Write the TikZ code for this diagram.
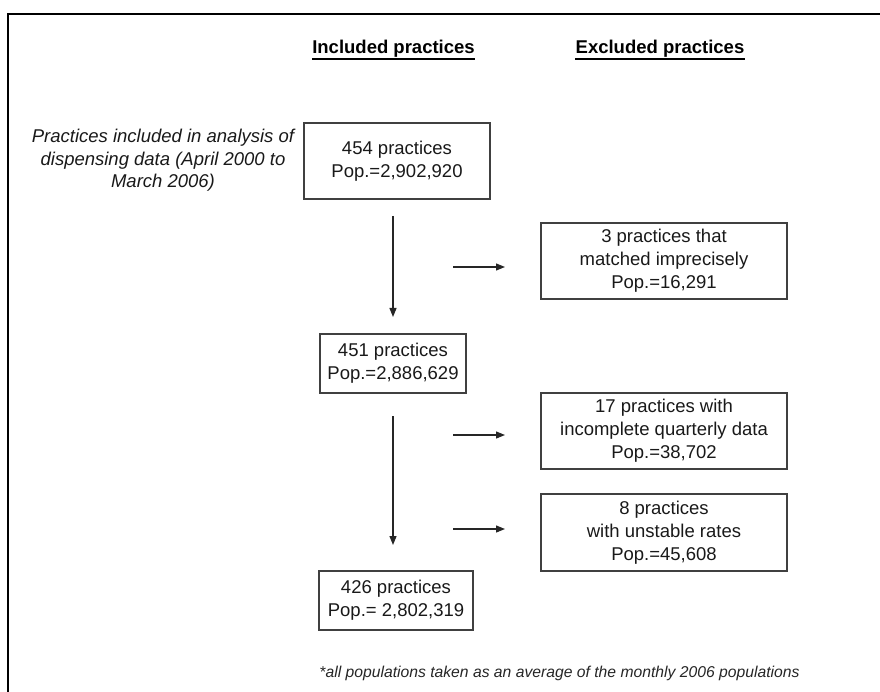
\documentclass[tikz,border=0pt]{standalone}
\usepackage{fontspec}
\setmainfont{Liberation Sans}
\usetikzlibrary{arrows.meta}
\tikzset{
  boxnode/.style={draw=black!75, line width=1.2pt, align=center, inner sep=0pt,
    text=black!90, font=\fontsize{18.5}{23}\selectfont},
  headnode/.style={inner sep=0pt, anchor=base, font=\bfseries\fontsize{18.5}{22}\selectfont},
  uline/.style={line width=1.8pt, black},
  arr/.style={line width=1.2pt, black!85, -{Triangle[length=9pt,width=7pt]}},
  frame/.style={line width=2.5pt, black}
}
\begin{document}
\begin{tikzpicture}[x=1pt,y=-1pt]
\useasboundingbox (0,0) rectangle (880,692);
% outer frame (right and bottom lie outside the picture)
\coordinate (fbl) at (8,692);
\coordinate (ftl) at (8,14);
\coordinate (ftr) at (880,14);
\draw[frame] (fbl) -- (ftl) -- (ftr);

% headers
\node[headnode] (hinc) at (393.5,53.5) {Included practices};
\node[headnode] (hexc) at (660,53.5) {Excluded practices};
\draw[uline] ([yshift=-5.5pt]hinc.base west) -- ([yshift=-5.5pt]hinc.base east);
\draw[uline] ([yshift=-5.5pt]hexc.base west) -- ([yshift=-5.5pt]hexc.base east);

% left description
\node[align=center, inner sep=0pt, font=\itshape\fontsize{18.5}{22.5}\selectfont, text=black!90]
  (desc) at (163,160.5) {Practices included in analysis of\\dispensing data (April 2000 to\\March 2006)};

% included boxes
\node[boxnode, minimum width=186pt, minimum height=76pt] (b454) at (397,161)
  {454 practices\\Pop.=2,902,920};
\node[boxnode, minimum width=146pt, minimum height=59pt] (b451) at (393,363.5)
  {451 practices\\Pop.=2,886,629};
\node[boxnode, minimum width=154pt, minimum height=59pt] (b426) at (396,600.5)
  {426 practices\\Pop.= 2,802,319};

% excluded boxes
\node[boxnode, minimum width=246pt, minimum height=76pt] (b3) at (664,261)
  {3 practices that\\matched imprecisely\\Pop.=16,291};
\node[boxnode, minimum width=246pt, minimum height=76pt] (b17) at (664,431)
  {17 practices with\\incomplete quarterly data\\Pop.=38,702};
\node[boxnode, minimum width=246pt, minimum height=77pt] (b8) at (664,532.5)
  {8 practices\\with unstable rates\\Pop.=45,608};

% arrow end points
\coordinate (v1s) at (393,216);
\coordinate (v1e) at (393,317);
\coordinate (v2s) at (393,416);
\coordinate (v2e) at (393,545);
\coordinate (h1s) at (453,267);
\coordinate (h1e) at (505,267);
\coordinate (h2s) at (453,435);
\coordinate (h2e) at (505,435);
\coordinate (h3s) at (453,529);
\coordinate (h3e) at (505,529);

\draw[arr] (v1s) -- (v1e);
\draw[arr] (v2s) -- (v2e);
\draw[arr] (h1s) -- (h1e);
\draw[arr] (h2s) -- (h2e);
\draw[arr] (h3s) -- (h3e);

% footnote
\node[inner sep=0pt, font=\itshape\fontsize{15.7}{18}\selectfont, text=black!85]
  (foot) at (559.5,673) {*all populations taken as an average of the monthly 2006 populations};
\end{tikzpicture}
\end{document}
